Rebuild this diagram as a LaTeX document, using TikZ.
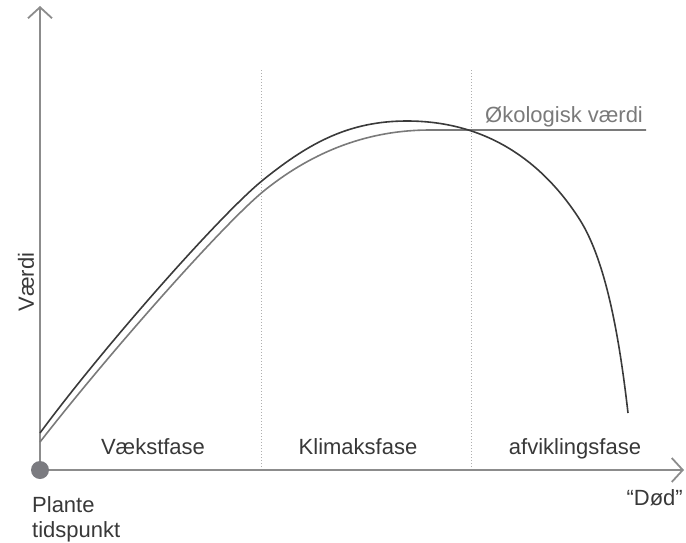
\documentclass[tikz,border=0pt]{standalone}
\usepackage{fontspec}
\setmainfont{Liberation Sans}
\usetikzlibrary{arrows.meta}
\definecolor{axisgray}{HTML}{8C8C8C}
\definecolor{dotgray}{HTML}{7B7B80}
\definecolor{darkline}{HTML}{3A3A3A}
\definecolor{grayline}{HTML}{7A7A7A}
\definecolor{txt}{HTML}{383838}
\definecolor{lbl}{HTML}{7A7A7A}
\tikzset{
  axisline/.style={draw=axisgray, line width=1.8pt},
  tipstyle/.style={-{Straight Barb[length=11pt,width=24pt,line width=1.8pt]}},
  phaseline/.style={draw=axisgray!70, line width=1pt, dotted},
  valcurve/.style={draw=darkline, line width=1.6pt},
  ecocurve/.style={draw=grayline, line width=1.6pt},
  lab/.style={text=txt, font=\fontsize{22}{26}\selectfont, inner sep=0pt},
}
\begin{document}
\begin{tikzpicture}[x=1pt,y=-1pt]
\useasboundingbox (0,0) rectangle (686,542);
\coordinate (O) at (40,470);
\coordinate (Ytop) at (40,6);
\coordinate (Xend) at (684,470);
% phase separators
\coordinate (s1t) at (261,70); \coordinate (s1b) at (261,470);
\coordinate (s2t) at (471,70); \coordinate (s2b) at (471,470);
\draw[phaseline] (s1t) -- (s1b);
\draw[phaseline] (s2t) -- (s2b);
% axes
\draw[axisline, tipstyle] (O) -- (Ytop);
\draw[axisline, tipstyle] (O) -- (Xend);
\fill[dotgray] (O) circle (9pt);
% curves
\coordinate (e0) at (40,442);
\coordinate (e1) at (265,190);
\coordinate (e2) at (430,130);
\coordinate (e3) at (646,130);
\draw[ecocurve] (e0) .. controls (110,352) and (225,222) .. (e1)
  .. controls (315,150) and (370,130) .. (e2) -- (e3);
\coordinate (v0) at (40,433);
\coordinate (va) at (263,180);
\coordinate (v1) at (407,121);
\coordinate (v2) at (580,220);
\coordinate (v3) at (628,413);
\draw[valcurve] (v0) .. controls (105,345) and (222,213) .. (va)
  .. controls (310,142) and (350,121) .. (v1)
  .. controls (490,121) and (545,165) .. (v2)
  .. controls (607,263) and (620,343) .. (v3);
% labels
\node[lab, text=lbl, anchor=base west] (eco) at (485,122) {Økologisk værdi};
\node[lab, anchor=base, rotate=90] (vaerdi) at (34,282) {Værdi};
\node[lab, anchor=base] (p1) at (153,454) {Vækstfase};
\node[lab, anchor=base] (p2) at (358,454) {Klimaksfase};
\node[lab, anchor=base] (p3) at (575,454) {afviklingsfase};
\node[lab, anchor=base west] (plante) at (32,512) {Plante};
\node[lab, anchor=base west] (tid) at (32,537) {tidspunkt};
\node[lab, anchor=base east] (dod) at (683,505) {“Død”};
\end{tikzpicture}
\end{document}
